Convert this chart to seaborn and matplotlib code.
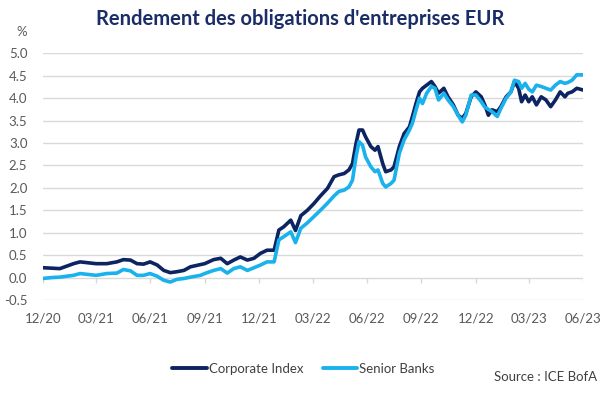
"""Rendement des obligations d'entreprises EUR - Corporate Index vs Senior Banks."""

import pandas as pd
import numpy as np
import matplotlib
matplotlib.use("Agg")
import matplotlib.pyplot as plt
import matplotlib.dates as mdates
from matplotlib.lines import Line2D
import seaborn as sns

# --- data (yield, %) ---
dates = [
    "2020-12-31", "2021-01-15", "2021-01-29", "2021-02-21", "2021-03-04", "2021-03-31",
    "2021-04-18", "2021-05-05", "2021-05-16", "2021-05-28", "2021-06-08", "2021-06-19",
    "2021-06-30", "2021-07-12", "2021-07-23", "2021-08-03", "2021-08-14", "2021-08-26",
    "2021-09-06", "2021-09-23", "2021-09-30", "2021-10-15", "2021-10-27", "2021-11-07",
    "2021-11-18", "2021-11-29", "2021-12-11", "2021-12-22", "2022-01-02", "2022-01-13",
    "2022-01-25", "2022-02-02", "2022-02-10", "2022-02-22", "2022-03-02", "2022-03-11",
    "2022-03-22", "2022-04-02", "2022-04-13", "2022-04-25", "2022-05-06", "2022-05-14",
    "2022-05-23", "2022-05-31", "2022-06-06", "2022-06-12", "2022-06-17", "2022-06-23",
    "2022-06-28", "2022-07-07", "2022-07-14", "2022-07-19", "2022-07-27", "2022-08-01",
    "2022-08-10", "2022-08-15", "2022-08-24", "2022-09-01", "2022-09-10", "2022-09-15",
    "2022-09-21", "2022-09-27", "2022-10-02", "2022-10-09", "2022-10-17", "2022-10-23",
    "2022-10-29", "2022-11-07", "2022-11-14", "2022-11-23", "2022-12-01", "2022-12-08",
    "2022-12-14", "2022-12-23", "2022-12-31", "2023-01-09", "2023-01-15", "2023-01-21",
    "2023-01-27", "2023-02-05", "2023-02-11", "2023-02-20", "2023-02-28", "2023-03-06",
    "2023-03-13", "2023-03-18", "2023-03-24", "2023-03-30", "2023-04-05", "2023-04-12",
    "2023-04-20", "2023-04-28", "2023-05-06", "2023-05-14", "2023-05-22", "2023-05-30",
    "2023-06-04", "2023-06-11", "2023-06-19", "2023-06-30",
]

corporate_index = [
    0.22, 0.21, 0.20, 0.31, 0.35, 0.31,
    0.31, 0.35, 0.40, 0.39, 0.31, 0.30,
    0.35, 0.28, 0.16, 0.11, 0.13, 0.16,
    0.24, 0.29, 0.31, 0.40, 0.43, 0.31,
    0.39, 0.46, 0.39, 0.43, 0.54, 0.61,
    0.61, 1.06, 1.13, 1.28, 1.05, 1.38,
    1.50, 1.65, 1.82, 1.99, 2.25, 2.29,
    2.32, 2.40, 2.54, 2.99, 3.29, 3.29,
    3.14, 2.92, 2.84, 2.92, 2.54, 2.36,
    2.40, 2.47, 2.92, 3.21, 3.36, 3.59,
    3.88, 4.14, 4.22, 4.29, 4.37, 4.26,
    4.11, 4.22, 4.03, 3.85, 3.62, 3.55,
    3.66, 4.03, 4.14, 4.03, 3.85, 3.62,
    3.74, 3.70, 3.81, 4.03, 4.14, 4.37,
    4.22, 3.92, 4.07, 3.92, 4.03, 3.85,
    4.03, 3.96, 3.81, 3.96, 4.14, 4.03,
    4.11, 4.14, 4.22, 4.18,
]

senior_banks = [
    -0.02, 0.00, 0.01, 0.05, 0.09, 0.05,
    0.09, 0.10, 0.18, 0.15, 0.05, 0.05,
    0.09, 0.03, -0.06, -0.10, -0.04, -0.02,
    0.01, 0.05, 0.09, 0.16, 0.20, 0.10,
    0.20, 0.24, 0.16, 0.22, 0.28, 0.35,
    0.35, 0.84, 0.91, 1.02, 0.78, 1.10,
    1.22, 1.36, 1.50, 1.66, 1.82, 1.92,
    1.95, 2.02, 2.17, 2.69, 3.03, 2.95,
    2.69, 2.47, 2.36, 2.40, 2.10, 2.02,
    2.10, 2.17, 2.77, 3.07, 3.29, 3.44,
    3.73, 4.00, 3.88, 4.11, 4.26, 4.22,
    3.96, 4.11, 3.96, 3.81, 3.62, 3.47,
    3.62, 4.07, 4.07, 3.92, 3.80, 3.75,
    3.70, 3.59, 3.77, 4.00, 4.14, 4.40,
    4.37, 4.22, 4.33, 4.20, 4.14, 4.29,
    4.26, 4.22, 4.18, 4.29, 4.37, 4.33,
    4.35, 4.40, 4.52, 4.52,
]

series_names = ["Corporate Index", "Senior Banks"]
colors = ["#0C2461", "#19B2EC"]
tick_dates = pd.date_range("2020-12-31", "2023-06-30", freq="3ME")
y_ticks = np.arange(-0.5, 5.01, 0.5)

df = pd.DataFrame({
    "date": pd.to_datetime(dates * 2),
    "value": corporate_index + senior_banks,
    "series": [series_names[0]] * len(dates) + [series_names[1]] * len(dates),
})

sns.set_style("white")
plt.rcParams["font.family"] = ["Lato", "DejaVu Sans"]

fig = plt.figure(figsize=(6.07, 3.96), dpi=100)
ax = fig.add_axes([0.0703, 0.2424, 0.8907, 0.6230])

sns.lineplot(data=df, x="date", y="value", hue="series", palette=colors,
             linewidth=2.6, ax=ax, legend=False)

ax.set_ylim(-0.5, 5.0)
ax.set_xlim(tick_dates[0], tick_dates[-1])
ax.set_yticks(y_ticks)
ax.set_yticklabels([f"{v:.1f}" for v in y_ticks])
ax.yaxis.grid(True, color="#D9D9D9", linewidth=1)
ax.set_axisbelow(True)
for s in ax.spines.values():
    s.set_visible(False)

ax.set_xticks(tick_dates)
ax.xaxis.set_major_formatter(mdates.DateFormatter("%m/%y"))
ax.tick_params(axis="x", length=0, pad=9, labelsize=9.5, labelcolor="#595959")
ax.tick_params(axis="y", length=0, pad=11, labelsize=9.5, labelcolor="#595959")
ax.set_xlabel("")
ax.set_ylabel("")

# small tick marks hanging below the zero line, Excel style
ax.vlines(tick_dates, -0.12, 0, color="#D9D9D9", linewidth=1, zorder=1)

fig.text(0.495, 0.953, "Rendement des obligations d'entreprises EUR",
         ha="center", va="center", fontsize=14.5, fontweight="bold", color="#1A2D66")
fig.text(0.036, 0.918, "%", ha="center", va="center", fontsize=9.5, color="#595959")

handles = [Line2D([0], [0], color=c, linewidth=2.8) for c in colors]
fig.legend(handles, series_names, loc="center", bbox_to_anchor=(0.5, 0.068),
           ncol=2, frameon=False, fontsize=9.5, handlelength=2.6,
           handletextpad=0.15, columnspacing=1.5, labelcolor="#404040")
fig.text(0.983, 0.048, "Source : ICE BofA", ha="right", va="center",
         fontsize=9.5, color="#404040")

fig.savefig("out.png", dpi=100)
